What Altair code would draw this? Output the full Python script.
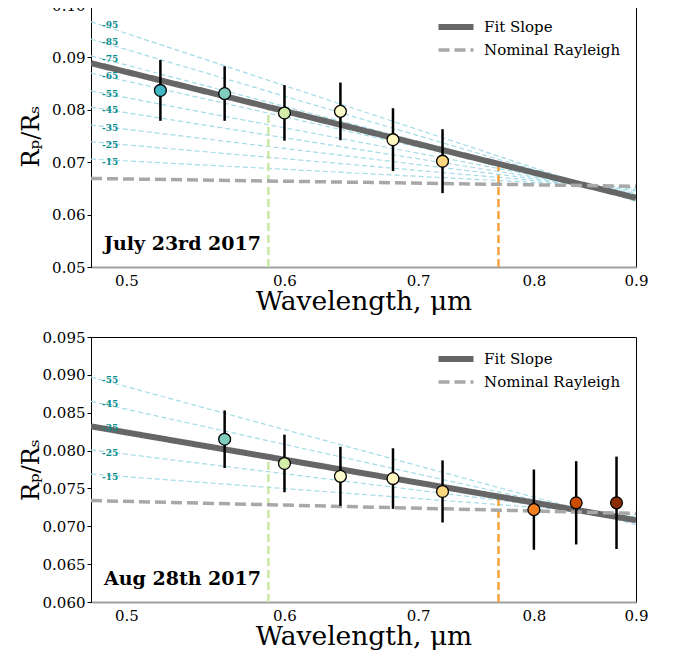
import altair as alt
import pandas as pd

LAM_RANGE = [0.48, 0.9]
X_TICKS = [0.5, 0.6, 0.7, 0.8, 0.9]
SERIES = ["Fit Slope", "Nominal Rayleigh"]

# ---------------- Top panel: July 23rd 2017 ----------------
top_date = "July 23rd 2017"
top_lam = [0.52, 0.56, 0.60, 0.64, 0.68, 0.72]
top_rp = [0.0837, 0.0831, 0.0794, 0.0797, 0.0743, 0.0702]
top_err = [0.0058, 0.0052, 0.0053, 0.0055, 0.0060, 0.0061]
top_colors = ["#41b6c4", "#7fcdbb", "#d4eeaa", "#fafccc", "#fff5bf", "#fdd680"]
top_fit = [0.0889, 0.0632]
top_rayleigh = [0.0669, 0.0654]
top_slope_labels = ["-95", "-85", "-75", "-65", "-55", "-45", "-35", "-25", "-15"]
top_slope_left = [0.0968, 0.0935, 0.0903, 0.0870, 0.0836, 0.0805, 0.0771, 0.0739, 0.0706]
top_slope_right = [0.0625, 0.0628, 0.0631, 0.0635, 0.0638, 0.0641, 0.0645, 0.0648, 0.0651]
top_vline_lam = [0.589, 0.768]
top_vline_top = [0.0805, 0.0697]
top_ylim = [0.05, 0.10]
top_yticks = [0.05, 0.06, 0.07, 0.08, 0.09, 0.10]

# ---------------- Bottom panel: Aug 28th 2017 ----------------
bot_date = "Aug 28th 2017"
bot_lam = [0.56, 0.60, 0.64, 0.68, 0.72, 0.80, 0.84, 0.88]
bot_rp = [0.0815, 0.0783, 0.0766, 0.0763, 0.0746, 0.0722, 0.0731, 0.0731]
bot_err = [0.0038, 0.0038, 0.0039, 0.0040, 0.0041, 0.0053, 0.0055, 0.0061]
bot_colors = ["#7fcdbb", "#d4eeaa", "#fafccc", "#fff5bf", "#fdd680", "#f47f1e", "#cc4c02", "#8c2d04"]
bot_fit = [0.0832, 0.0708]
bot_rayleigh = [0.0734, 0.0717]
bot_slope_labels = ["-55", "-45", "-35", "-25", "-15"]
bot_slope_left = [0.0897, 0.0865, 0.0834, 0.0801, 0.0769]
bot_slope_right = [0.0702, 0.0705, 0.0709, 0.0712, 0.0715]
bot_vline_lam = [0.589, 0.768]
bot_vline_top = [0.0790, 0.0739]
bot_ylim = [0.060, 0.095]
bot_yticks = [0.060, 0.065, 0.070, 0.075, 0.080, 0.085, 0.090, 0.095]

VLINE_COLORS = ["#c9e8a5", "#f8a23a"]
SERIF = "DejaVu Serif"
W = 545


def panel(lam, rp, err, colors, fit, ray, slabels, sleft, sright,
          vl_lam, vl_top, ylim, yticks, yfmt, date, height):
    xs = alt.Scale(type="log", domain=LAM_RANGE, nice=False, zero=False)
    ys = alt.Scale(domain=ylim, nice=False, zero=False)
    xax = alt.Axis(values=X_TICKS, format=".1f", title="Wavelength, μm",
                   ticks=False, grid=False, labelPadding=6,
                   domainColor="#a0a0a0", domainWidth=2, titlePadding=0,
                   titleFontSize=26.5)
    yax = alt.Axis(values=yticks, format=yfmt, title="Rₚ/Rₛ", grid=False,
                   tickSize=4, labelPadding=2, titleX=-60,
                   titleBaseline="middle", titleFontSize=24)
    X = alt.X("lam:Q", scale=xs, axis=xax)
    Y = alt.Y("val:Q", scale=ys, axis=yax)

    slope_df = pd.DataFrame({
        "label": slabels * 2,
        "lam": [LAM_RANGE[0]] * len(slabels) + [LAM_RANGE[1]] * len(slabels),
        "val": sleft + sright,
    })
    slope_lines = alt.Chart(slope_df).mark_line(
        color="#a3dbe6", strokeWidth=1.2, strokeDash=[5, 3], clip=True
    ).encode(x=X, y=Y, detail="label:N")

    label_df = pd.DataFrame({"label": slabels, "val": sleft})
    slope_text = alt.Chart(label_df).mark_text(
        font=SERIF, fontSize=9, fontWeight="bold", color="#0b8c8c",
        align="left", baseline="middle", dy=3
    ).encode(x=alt.value(11), y=Y, text="label:N")

    lines_df = pd.DataFrame({
        "series": [SERIES[0]] * 2 + [SERIES[1]] * 2,
        "lam": LAM_RANGE * 2,
        "val": fit + ray,
    })
    leg = alt.Legend(title=None, orient="none", legendX=353, legendY=10,
                     symbolType="M-2,0H2", symbolSize=306, labelFont=SERIF,
                     labelFontSize=15, labelColor="black", labelOffset=16,
                     rowPadding=0.5, padding=0)
    model_lines = alt.Chart(lines_df).mark_line(clip=True).encode(
        x=X, y=Y,
        color=alt.Color("series:N", scale=alt.Scale(domain=SERIES, range=["#666666", "#a8a8a8"]), legend=leg),
        strokeDash=alt.StrokeDash("series:N", scale=alt.Scale(domain=SERIES, range=[[1, 0], [11, 5]]), legend=leg),
        strokeWidth=alt.StrokeWidth("series:N", scale=alt.Scale(domain=SERIES, range=[6, 3.5]), legend=leg),
        order=alt.Order("series:N", sort="descending"),
    )

    vl_df = pd.DataFrame({"lam": vl_lam, "val": [ylim[0]] * len(vl_lam),
                          "val2": vl_top, "col": VLINE_COLORS})
    vlines = alt.Chart(vl_df).mark_rule(strokeWidth=2.5, strokeDash=[8, 4]).encode(
        x=X, y=Y, y2="val2:Q", color=alt.Color("col:N", scale=None)
    )

    pts_df = pd.DataFrame({
        "lam": lam, "val": rp,
        "lo": [r - e for r, e in zip(rp, err)],
        "hi": [r + e for r, e in zip(rp, err)],
        "col": colors,
    })
    errbars = alt.Chart(pts_df).mark_rule(color="black", strokeWidth=2.5).encode(
        x=X, y=alt.Y("lo:Q", scale=ys, axis=yax), y2="hi:Q"
    )
    points = alt.Chart(pts_df).mark_point(
        shape="circle", filled=True, size=140, stroke="black", strokeWidth=1.3, opacity=1
    ).encode(x=X, y=Y, fill=alt.Fill("col:N", scale=None))

    date_df = pd.DataFrame({"text": [date]})
    date_text = alt.Chart(date_df).mark_text(
        font=SERIF, fontSize=19, fontWeight="bold", color="black",
        align="left", baseline="middle"
    ).encode(x=alt.value(13), y=alt.value(height - 23), text="text:N")

    return alt.layer(slope_lines, vlines, model_lines, errbars, points,
                     slope_text, date_text).properties(width=W, height=height)


top = panel(top_lam, top_rp, top_err, top_colors, top_fit, top_rayleigh,
            top_slope_labels, top_slope_left, top_slope_right,
            top_vline_lam, top_vline_top, top_ylim, top_yticks, ".2f",
            top_date, 262)
bot = panel(bot_lam, bot_rp, bot_err, bot_colors, bot_fit, bot_rayleigh,
            bot_slope_labels, bot_slope_left, bot_slope_right,
            bot_vline_lam, bot_vline_top, bot_ylim, bot_yticks, ".3f",
            bot_date, 265)

chart = alt.vconcat(top, bot, spacing=14).resolve_scale(
    color="independent", strokeDash="independent", strokeWidth="independent"
).resolve_legend(
    color="independent", strokeDash="independent", strokeWidth="independent"
).properties(
    padding={"left": 10, "top": -11, "right": 5, "bottom": 0}, background="white"
).configure(
    font=SERIF
).configure_view(
    stroke="black", strokeWidth=1
).configure_axis(
    labelFont=SERIF, labelFontSize=15, labelColor="black",
    titleFont=SERIF, titleFontWeight="normal", titleColor="black",
    domainColor="black", tickColor="black", labelFlush=False
).configure_legend(
    labelFont=SERIF, labelFontSize=15, labelColor="black"
)

chart.save("out.html", embed_options={"renderer": "svg", "actions": False})
